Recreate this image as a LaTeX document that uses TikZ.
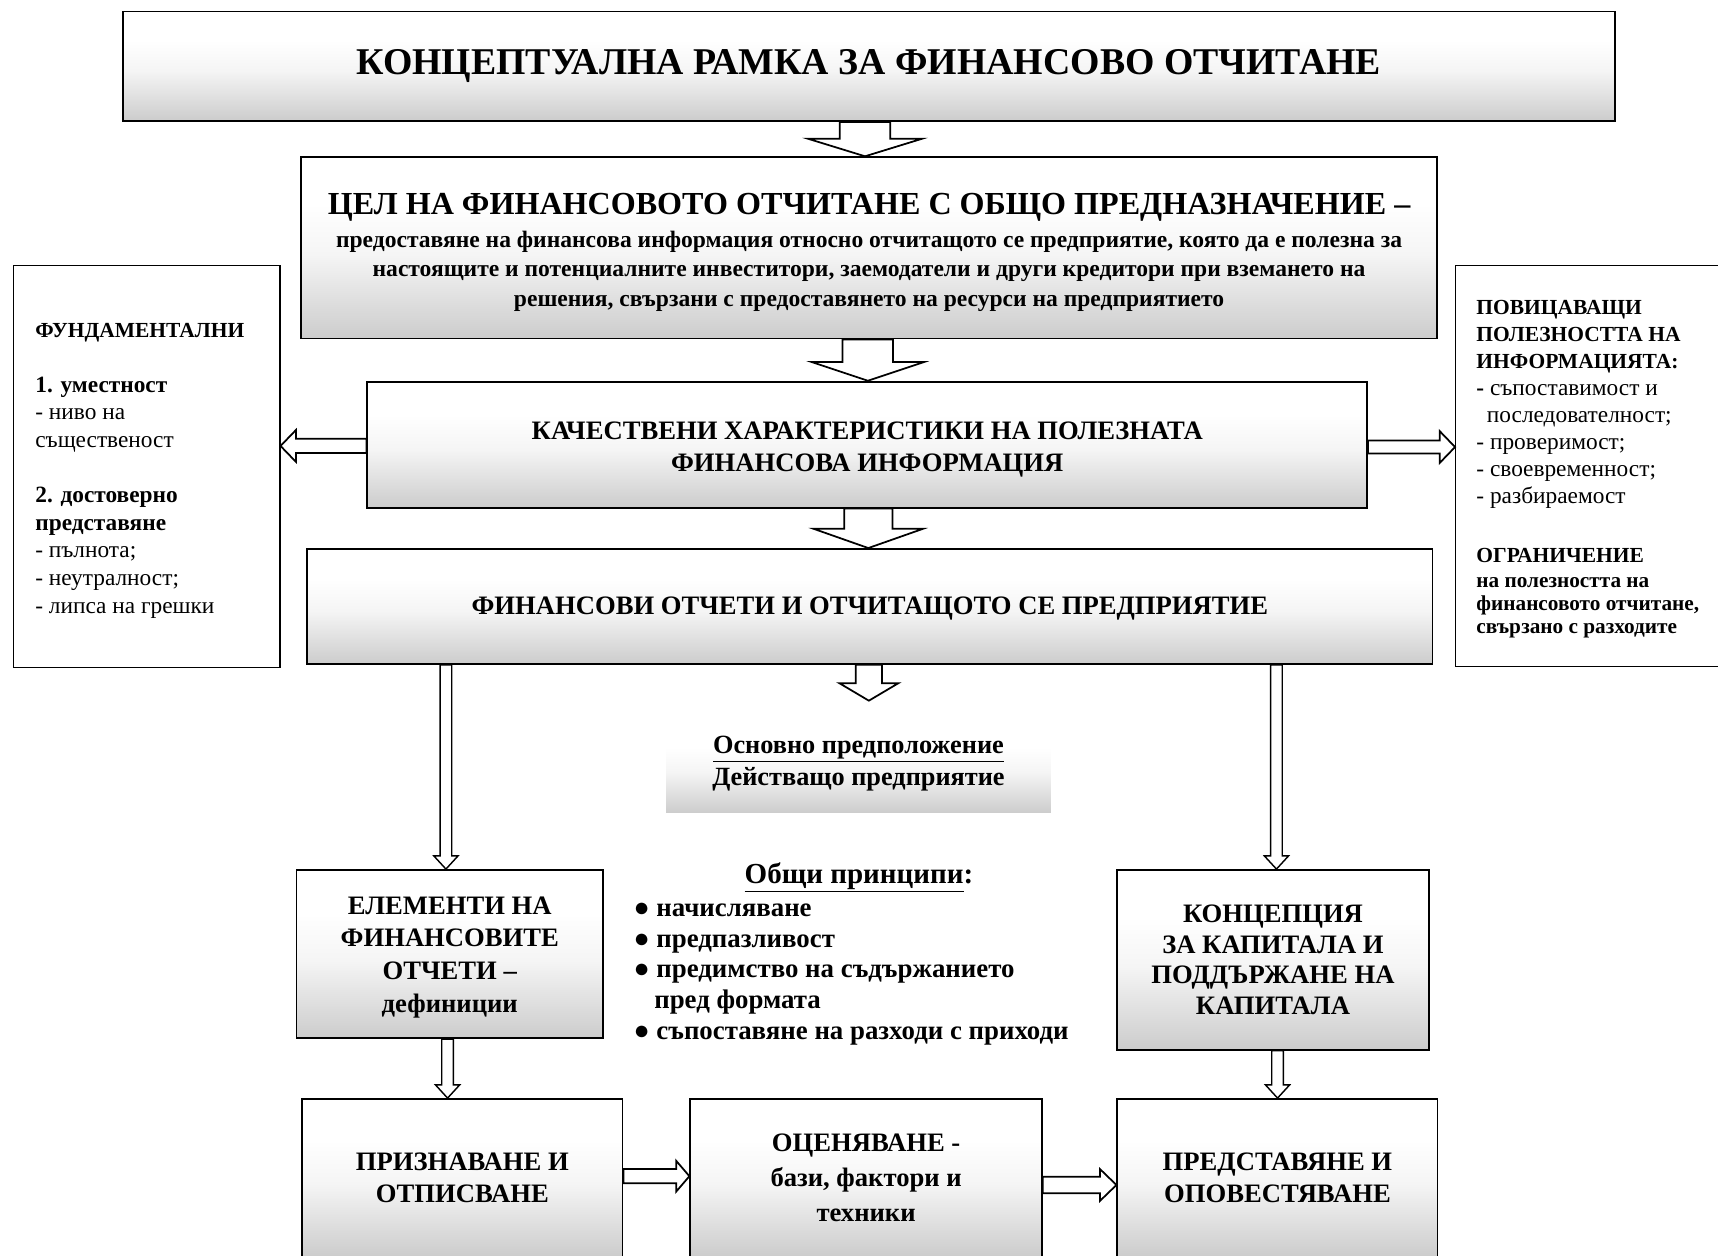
\documentclass[tikz,border=0pt]{standalone}
\usepackage{fontspec}
\setmainfont{Liberation Serif}
\usetikzlibrary{calc}
\pgfdeclareverticalshading{boxshade}{100bp}{color(0bp)=(black!20); color(25bp)=(black!20); color(48bp)=(black!4); color(62bp)=(white); color(100bp)=(white)}
\tikzset{
  gbox/.style={draw=black, line width=1.6pt, shading=boxshade, inner sep=0pt, align=flush center},
  sidebox/.style={draw=black, line width=1pt, fill=white, inner sep=0pt},
  boxtext/.style={inner sep=0pt, align=flush center},
  sidetext/.style={inner sep=0pt, align=flush left},
  blockarrow/.style={draw=black, line width=1.6pt, fill=white, line join=miter},
  thinarrow/.style={draw=black, line width=1.3pt, fill=white, line join=miter},
  plaintext/.style={inner sep=0pt},
  boxfont/.style={font={\fontsize{24.3}{#1}\selectfont\bfseries}},
}
\newcommand\bcap[1]{{\bfseries\fontsize{19.6}{24.7}\selectfont #1}}
% vertical block arrow: style, start point, end point, x, half shaft, half head, head length
\newcommand\vblock[7]{%
  \draw[#1] let \p1=#2, \p2=#3 in
    ({#4pt-#5pt},\y1) -- ({#4pt+#5pt},\y1) -- ({#4pt+#5pt},{\y2+#7pt}) -- ({#4pt+#6pt},{\y2+#7pt})
    -- ({#4pt},\y2) -- ({#4pt-#6pt},{\y2+#7pt}) -- ({#4pt-#5pt},{\y2+#7pt}) -- cycle;}
% horizontal block arrow: style, start point, end point, y (downward px), half shaft, half head, signed head length
\newcommand\hblock[7]{%
  \draw[#1] let \p1=#2, \p2=#3 in
    (\x1,{-#4pt+#5pt}) -- ({\x2-(#7pt)},{-#4pt+#5pt}) -- ({\x2-(#7pt)},{-#4pt+#6pt}) -- (\x2,{-#4pt})
    -- ({\x2-(#7pt)},{-#4pt-#6pt}) -- ({\x2-(#7pt)},{-#4pt-#5pt}) -- (\x1,{-#4pt-#5pt}) -- cycle;}
\begin{document}
\begin{tikzpicture}[x=1pt,y=-1pt]
\useasboundingbox (0,0) rectangle (1568,1146);
\clip (0,0) rectangle (1568,1146);

% main column
\node[gbox, minimum width=1362pt, minimum height=100pt, text width=1320pt,
      font={\fontsize{34.5}{40}\selectfont\bfseries}] (top) at (793,60.5)
  {КОНЦЕПТУАЛНА РАМКА ЗА ФИНАНСОВО ОТЧИТАНЕ};

\node[gbox, minimum width=1036.5pt, minimum height=165.5pt] (goal) at (793.2,226.2) {};
\node[boxtext, text width=1030pt, font={\fontsize{21.5}{27}\selectfont\bfseries}] (goal-t)
  at ([yshift=-4pt]goal.center)
  {{\fontsize{29.3}{34}\selectfont ЦЕЛ НА ФИНАНСОВОТО ОТЧИТАНЕ С ОБЩО ПРЕДНАЗНАЧЕНИЕ –\par}
   \vspace{3pt}
   предоставяне на финансова информация относно отчитащото се предприятие, която да е полезна за\\
   настоящите и потенциалните инвеститори, заемодатели и други кредитори при вземането на\\
   решения, свързани с предоставянето на ресурси на предприятието};

\node[gbox, minimum width=912.6pt, minimum height=115pt] (qual) at (791.5,405.8) {};
\node[boxtext, text width=880pt, boxfont=28.5] (qual-t) at ([yshift=-4.5pt]qual.center)
  {КАЧЕСТВЕНИ ХАРАКТЕРИСТИКИ НА ПОЛЕЗНАТА\\ФИНАНСОВА ИНФОРМАЦИЯ};

\node[gbox, minimum width=1026.8pt, minimum height=105pt] (stmt) at (793.9,553.5) {};
\node[boxtext, text width=1000pt, boxfont=28] (stmt-t) at ([yshift=-2pt]stmt.center)
  {ФИНАНСОВИ ОТЧЕТИ И ОТЧИТАЩОТО СЕ ПРЕДПРИЯТИЕ};

% side boxes
\node[sidebox, minimum width=243.3pt, minimum height=366.9pt] (fund) at (133.9,425.4) {};
\node[sidetext, text width=203.3pt, font={\fontsize{21.3}{25.2}\selectfont}] (fund-t)
  at ([yshift=-4pt]fund.center)
  {{\bfseries\fontsize{19.6}{25.2}\selectfont ФУНДАМЕНТАЛНИ}\\[25.2pt]
   \textbf{1. уместност}\\
   - ниво на\\
   същественост\\[25.2pt]
   \textbf{2. достоверно}\\
   \textbf{представяне}\\
   - пълнота;\\
   - неутралност;\\
   - липса на грешки};

\node[sidebox, minimum width=300pt, minimum height=366.5pt] (enh) at (1478.5,425.2) {};
\node[sidetext, text width=262pt, font={\fontsize{21.3}{24.7}\selectfont}] (enh-t)
  at ([yshift=-3pt]enh.center)
  {\bcap{ПОВИЦАВАЩИ}\\
   \bcap{ПОЛЕЗНОСТТА НА}\\
   \bcap{ИНФОРМАЦИЯТА:}\\
   \textbf{-} съпоставимост и\\
   \hspace*{0.45em}последователност;\\
   - проверимост;\\
   - своевременност;\\
   - разбираемост\\[28.8pt]
   \bcap{ОГРАНИЧЕНИЕ}\\[-1.9pt]
   {\bfseries\fontsize{19.4}{21.8}\selectfont на полезността на}\\[-3.5pt]
   {\bfseries\fontsize{19.4}{21.8}\selectfont финансовото отчитане,}\\[-3.2pt]
   {\bfseries\fontsize{19.4}{21.8}\selectfont свързано с разходите}};

% underlying assumption
\node[draw=none, shading=boxshade, inner sep=0pt, minimum width=351pt, minimum height=80pt] (assum) at (783.5,701.7) {};
\node[boxtext, text width=340pt, font={\fontsize{24}{29}\selectfont\bfseries}] (assum-t)
  at ([yshift=4.5pt]assum.center)
  {\underline{Основно предположение}\\Действащо предприятие};
\coordinate (a4tip) at (792,639.5);

% general principles
\node[plaintext, font={\fontsize{26.5}{30}\selectfont\bfseries}] (princh) at (784,801)
  {\underline{Общи принципи}:};
\node[plaintext, anchor=north west, align=flush left, font={\fontsize{24.5}{28}\selectfont\bfseries}] (princ) at (578,824)
  {● начисляване\\
   ● предпазливост\\
   ● предимство на съдържанието\\
   \hspace*{19pt}пред формата\\
   ● съпоставяне на разходи с приходи};

% lower boxes
\node[gbox, minimum width=280pt, minimum height=153.6pt] (elem) at (410.5,870.8) {};
\node[boxtext, text width=260pt, boxfont=30] (elem-t) at ([yshift=-3pt]elem.center)
  {ЕЛЕМЕНТИ НА\\ФИНАНСОВИТЕ\\ОТЧЕТИ –\\дефиниции};
\node[gbox, minimum width=284.2pt, minimum height=164pt, text width=264pt, boxfont=28] (capc) at (1161.8,876)
  {КОНЦЕПЦИЯ\\ЗА КАПИТАЛА И\\ПОДДЪРЖАНЕ НА\\КАПИТАЛА};

\node[gbox, minimum width=292.3pt, minimum height=144pt, text width=270pt, boxfont=30] (recog) at (422,1075)
  {ПРИЗНАВАНЕ И\\ОТПИСВАНЕ};
\node[gbox, minimum width=321pt, minimum height=144pt, text width=300pt, boxfont=32] (meas) at (790.5,1075)
  {ОЦЕНЯВАНЕ -\\бази, фактори и\\техники};
\node[gbox, minimum width=292.3pt, minimum height=144pt, text width=270pt, boxfont=30] (pres) at (1165.9,1075)
  {ПРЕДСТАВЯНЕ И\\ОПОВЕСТЯВАНЕ};

% block arrows
\vblock{blockarrow}{(top.south)}{(goal.north)}{789.5}{23}{52}{16}
\vblock{blockarrow}{(goal.south)}{(qual.north)}{792}{23}{51}{17}
\vblock{blockarrow}{(qual.south)}{(stmt.north)}{792.5}{22}{50}{17.6}
\vblock{blockarrow}{(stmt.south)}{(a4tip)}{793}{12}{27}{16}
\hblock{blockarrow}{(qual.west)}{(fund.east)}{407}{6.5}{14.5}{-14}
\hblock{blockarrow}{(qual.east)}{(enh.west)}{408}{6}{14.5}{14}
\hblock{blockarrow}{(recog.east)}{(meas.west)}{1073.5}{6.5}{14}{12}
\hblock{blockarrow}{(meas.east)}{(pres.west)}{1081.5}{7.5}{14.5}{15}

% thin arrows
\vblock{thinarrow}{(stmt.south)}{(elem.north)}{407}{5.3}{11}{12}
\vblock{thinarrow}{(stmt.south)}{(capc.north)}{1165}{5.3}{11}{12}
\vblock{thinarrow}{(elem.south)}{(recog.north)}{408.5}{5.3}{11}{12}
\vblock{thinarrow}{(capc.south)}{(pres.north)}{1166}{5.3}{11}{12}
\end{tikzpicture}
\end{document}
